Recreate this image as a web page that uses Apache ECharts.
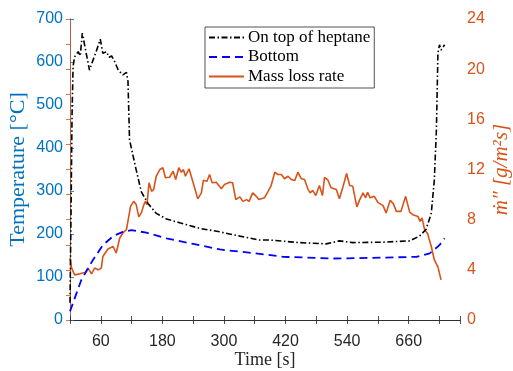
<!DOCTYPE html>
<html>
<head>
<meta charset="utf-8">
<script src="https://cdn.jsdelivr.net/npm/echarts@6/dist/echarts.min.js"></script>
<style>
  html, body { margin: 0; padding: 0; background: #fff; }
  #chart { width: 513px; height: 371px; }
</style>
</head>
<body>
<div id="chart"></div>
<script>
// Temperature on top of heptane (black dash-dot), left axis
const topTime = [0, 2, 4, 6, 9, 16, 20, 24, 38, 45, 51, 59, 64, 71, 76, 81, 87, 94, 103, 110, 113, 116,
  129, 139, 152, 168, 188, 214, 253, 292, 331, 369, 389, 447, 499, 525, 551, 609, 662, 681, 694, 704, 710, 714, 717, 720, 723, 730];
const topTemp = [40, 250, 480, 590, 612, 624, 614, 667, 581, 605, 624, 653, 620, 624, 611, 614, 601, 581, 570, 576, 555, 419,
  349, 298, 271, 248, 235, 226, 213, 205, 195, 186, 186, 180, 177, 184, 180, 181, 184, 195, 211, 248, 326, 442, 620, 640, 628, 640];

// Temperature at the bottom (blue dashed), left axis
const bottomTime = [0, 22, 45, 64, 84, 103, 120, 149, 188, 240, 292, 369, 415, 512, 610, 675, 701, 720, 730];
const bottomTemp = [20, 93, 140, 174, 195, 205, 209, 203, 190, 177, 164, 154, 147, 143, 145, 147, 155, 174, 190];

// Mass loss rate (orange), right axis [g/m^2 s]
const mlrTime = [0, 3, 9, 19, 29, 35, 42, 48, 55, 61, 64, 74, 84, 90, 97, 103, 110, 118, 124, 129, 134, 139, 144, 147, 150,
  154, 159, 163, 168, 175, 181, 186, 194, 201, 206, 212, 217, 221, 225, 232, 240, 249, 256, 260, 267, 272, 277, 285, 295,
  301, 311, 317, 323, 331, 337, 344, 349, 356, 363, 368, 379, 386, 392, 399, 405, 412, 418, 425, 431, 438, 444, 451, 457,
  464, 468, 473, 479, 486, 492, 496, 502, 509, 519, 525, 532, 539, 545, 551, 559, 564, 571, 576, 580, 585, 593, 600, 610,
  616, 624, 630, 636, 645, 654, 662, 668, 678, 682, 686, 691, 697, 704, 710, 717, 723];
const mlrValue = [4.96, 4.16, 3.6, 3.68, 3.78, 4.14, 3.68, 4.14, 4.0, 4.14, 5.06, 5.66, 5.86, 5.34, 6.54, 6.94, 7.2, 9.06, 9.46, 9.2, 8.22, 8.54, 9.2, 9.46, 9.2,
  10.94, 10.26, 10.4, 11.46, 12.0, 12.14, 11.34, 11.38, 11.86, 11.2, 12.14, 11.78, 12.0, 11.46, 12.06, 10.94, 9.66, 10.14, 11.14, 11.06, 11.6, 10.94, 10.98, 10.46,
  10.8, 10.98, 10.94, 9.6, 9.82, 9.46, 9.6, 9.46, 10.14, 9.86, 9.6, 9.74, 10.26, 10.72, 11.78, 11.6, 11.6, 11.26, 11.46, 11.2, 11.12, 11.78, 11.26, 11.2,
  10.4, 10.14, 10.34, 9.92, 10.72, 9.92, 11.38, 11.2, 10.54, 10.4, 9.66, 10.62, 11.68, 10.72, 10.66, 9.02, 9.54, 10.14, 9.74, 10.18, 9.74, 9.86, 9.38, 9.12,
  8.54, 9.54, 9.28, 8.66, 8.66, 9.86, 8.6, 8.4, 8.26, 7.86, 8.14, 7.2, 6.88, 5.86, 4.8, 4.24, 3.2];

const xTicks = [60, 180, 300, 420, 540, 660];
const rightTicks = [0, 4, 8, 12, 16, 20, 24];

const zip = (xs, ys) => xs.map((x, i) => [x, ys[i]]);

const axisGrey = '#262626';
const leftBlue = '#0072BD';
const rightOrange = '#D95319';
const tickFont = { fontFamily: 'Liberation Sans', fontSize: 16 };
const serif = 'Liberation Serif';

const chart = echarts.init(document.getElementById('chart'));

chart.setOption({
  animation: false,
  grid: { left: 70, right: 53, top: 19, bottom: 51, outerBoundsMode: 'none', containLabel: false },
  legend: {
    orient: 'vertical',
    left: 205,
    top: 27,
    padding: [2, 4, 3, 3],
    itemGap: 2.5,
    itemWidth: 35,
    itemHeight: 14,
    backgroundColor: '#fff',
    borderColor: axisGrey,
    borderWidth: 0.8,
    borderRadius: 0,
    itemStyle: { opacity: 0 },
    textStyle: { fontFamily: serif, fontSize: 17, color: '#000', padding: [0, 0, 0, -1] },
    data: ['On top of heptane', 'Bottom', 'Mass loss rate']
  },
  xAxis: [
    {
      type: 'value',
      min: 0,
      max: 760,
      interval: 60,
      name: 'Time [s]',
      nameLocation: 'middle',
      nameGap: 31,
      nameMoveOverlap: false,
      nameTextStyle: { fontFamily: serif, fontSize: 18, color: axisGrey },
      axisLine: { lineStyle: { color: axisGrey, width: 0.8 } },
      axisTick: { inside: true, length: 4, lineStyle: { color: axisGrey, width: 0.8 } },
      axisLabel: {
        ...tickFont,
        color: axisGrey,
        margin: 14,
        formatter: v => (xTicks.includes(v) ? String(v) : '')
      },
      splitLine: { show: false }
    },
    {
      type: 'value',
      position: 'top',
      min: 0,
      max: 760,
      interval: 60,
      axisLine: { show: true, lineStyle: { color: axisGrey, width: 0.8 } },
      axisTick: { show: true, inside: true, length: 4, lineStyle: { color: axisGrey, width: 0.8 } },
      axisLabel: { show: false },
      splitLine: { show: false }
    }
  ],
  yAxis: [
    {
      type: 'value',
      min: 0,
      max: 700,
      interval: 100,
      name: 'Temperature [°C]',
      nameLocation: 'middle',
      nameGap: 41,
      nameMoveOverlap: false,
      nameTextStyle: { fontFamily: serif, fontSize: 22, color: leftBlue },
      axisLine: { show: true, lineStyle: { color: leftBlue, width: 0.8 } },
      axisTick: { show: true, inside: true, length: 4, lineStyle: { color: leftBlue, width: 0.8 } },
      axisLabel: { ...tickFont, color: leftBlue, margin: 7 },
      splitLine: { show: false }
    },
    {
      type: 'value',
      position: 'right',
      min: 0,
      max: 24,
      interval: 2,
      name: 'ṁ″ [g/m²s]',
      nameLocation: 'middle',
      nameGap: 31,
      nameMoveOverlap: false,
      nameTextStyle: { fontFamily: serif, fontStyle: 'italic', fontSize: 21, color: rightOrange },
      axisLine: { show: true, lineStyle: { color: rightOrange, width: 0.8 } },
      axisTick: { show: true, inside: true, length: 4, lineStyle: { color: rightOrange, width: 0.8 } },
      axisLabel: {
        ...tickFont,
        color: rightOrange,
        margin: 7,
        formatter: v => (rightTicks.includes(v) ? String(v) : '')
      },
      splitLine: { show: false }
    }
  ],
  series: [
    {
      name: 'On top of heptane',
      type: 'line',
      xAxisIndex: 0,
      yAxisIndex: 0,
      symbol: 'none',
      data: zip(topTime, topTemp),
      lineStyle: { color: '#000', width: 1.6, type: [6, 2.5, 1.5, 2.5] },
      itemStyle: { color: '#000' },
      z: 3
    },
    {
      name: 'Bottom',
      type: 'line',
      xAxisIndex: 0,
      yAxisIndex: 0,
      symbol: 'none',
      data: zip(bottomTime, bottomTemp),
      lineStyle: { color: '#0000FF', width: 1.8, type: [8, 5] },
      itemStyle: { color: '#0000FF' },
      z: 3
    },
    {
      name: 'Mass loss rate',
      type: 'line',
      xAxisIndex: 0,
      yAxisIndex: 1,
      symbol: 'none',
      data: zip(mlrTime, mlrValue),
      lineStyle: { color: rightOrange, width: 1.6 },
      itemStyle: { color: rightOrange },
      z: 2
    }
  ]
});
</script>
</body>
</html>
